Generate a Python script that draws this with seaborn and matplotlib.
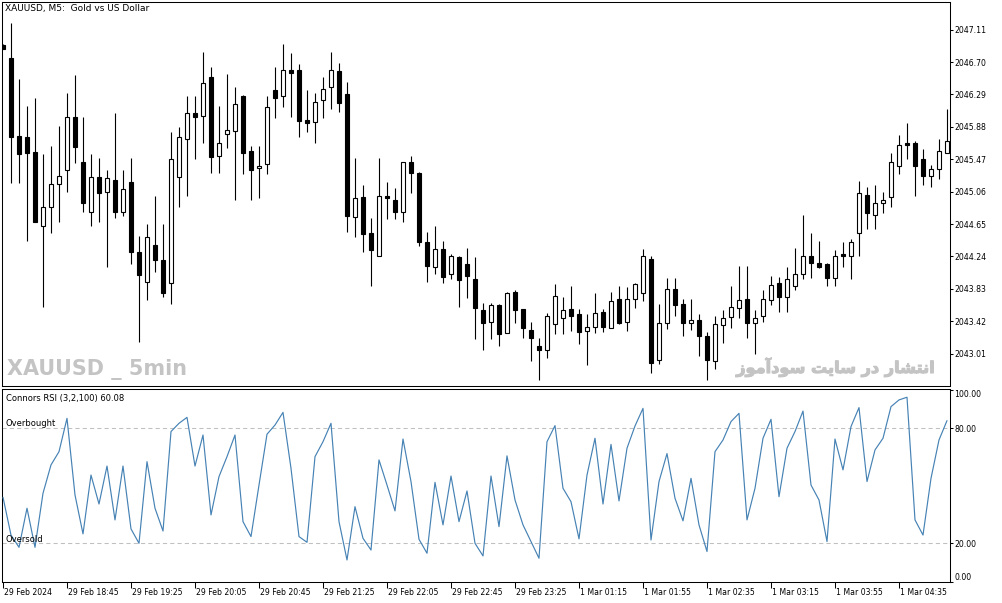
import numpy as np
import pandas as pd
import matplotlib
matplotlib.use("Agg")
import matplotlib.pyplot as plt
import matplotlib.transforms as mtransforms
import matplotlib.patheffects as pe
import seaborn as sns

# ---------------- data ----------------
opens = [2046.92, 2046.75, 2045.76, 2045.75, 2045.56, 2044.62, 2044.86, 2045.16, 2045.34, 2046.00,
         2045.43, 2044.80, 2045.24, 2045.06, 2045.21, 2044.80, 2045.18, 2044.29, 2043.91, 2044.39,
         2044.19, 2043.90, 2045.24, 2045.73, 2046.06, 2046.02, 2046.51, 2045.51, 2045.79, 2045.83,
         2046.27, 2045.58, 2045.36, 2045.41, 2046.35, 2046.27, 2046.60, 2046.60, 2045.97, 2045.94,
         2046.22, 2046.39, 2046.59, 2046.29, 2044.74, 2044.99, 2044.54, 2044.25, 2045.01, 2044.96,
         2044.80, 2045.44, 2045.30, 2044.42, 2044.11, 2044.33, 2044.02, 2044.23, 2044.15, 2043.96,
         2043.56, 2043.41, 2043.63, 2043.27, 2043.79, 2043.57, 2043.31, 2043.11, 2043.05, 2043.39,
         2043.46, 2043.57, 2043.51, 2043.30, 2043.35, 2043.54, 2043.34, 2043.70, 2043.41, 2043.70,
         2043.78, 2044.21, 2042.93, 2043.40, 2043.83, 2043.64, 2043.40, 2043.44, 2043.23, 2042.92,
         2043.37, 2043.47, 2043.59, 2043.70, 2043.40, 2043.48, 2043.69, 2043.90, 2043.73, 2043.87,
         2044.02, 2044.25, 2044.16, 2044.14, 2043.97, 2044.27, 2044.25, 2044.54, 2045.02, 2044.77,
         2044.91, 2044.99, 2045.39, 2045.67, 2045.67, 2045.47, 2045.26, 2045.35, 2045.55]
highs = [2046.93, 2047.19, 2046.48, 2046.14, 2046.24, 2045.53, 2045.64, 2045.89, 2046.31, 2046.54,
         2046.01, 2045.54, 2045.48, 2045.34, 2046.06, 2045.34, 2045.48, 2044.50, 2044.65, 2045.01,
         2044.65, 2045.81, 2045.88, 2046.27, 2046.27, 2046.83, 2046.64, 2046.14, 2046.55, 2046.38,
         2046.28, 2045.64, 2045.64, 2046.27, 2046.64, 2046.93, 2046.81, 2046.67, 2046.34, 2046.31,
         2046.51, 2046.83, 2046.69, 2046.45, 2045.48, 2045.15, 2044.73, 2045.48, 2045.18, 2045.10,
         2045.44, 2045.51, 2045.31, 2044.55, 2044.63, 2044.44, 2044.27, 2044.24, 2044.35, 2044.23,
         2043.65, 2043.65, 2043.64, 2043.79, 2043.82, 2043.58, 2043.41, 2043.21, 2043.53, 2043.89,
         2043.73, 2043.87, 2043.58, 2043.51, 2043.78, 2043.58, 2043.79, 2043.86, 2043.85, 2043.90,
         2044.34, 2044.25, 2043.64, 2043.97, 2043.97, 2043.70, 2043.70, 2043.51, 2043.28, 2043.49,
         2043.56, 2043.86, 2044.12, 2044.12, 2043.56, 2043.81, 2043.99, 2043.98, 2044.11, 2044.35,
         2044.77, 2044.54, 2044.44, 2044.16, 2044.32, 2044.42, 2044.46, 2045.20, 2045.12, 2045.14,
         2045.05, 2045.55, 2045.78, 2045.93, 2045.70, 2045.60, 2045.40, 2045.72, 2046.11]
lows = [2046.86, 2045.17, 2045.17, 2044.44, 2044.67, 2043.60, 2044.54, 2044.67, 2045.06, 2045.42,
        2044.80, 2044.63, 2044.68, 2044.11, 2044.72, 2044.75, 2044.14, 2043.16, 2043.69, 2044.04,
        2043.73, 2043.64, 2044.87, 2045.00, 2045.47, 2045.68, 2045.30, 2045.30, 2045.61, 2044.95,
        2045.28, 2044.95, 2044.98, 2045.28, 2045.99, 2046.13, 2046.00, 2045.75, 2045.81, 2045.68,
        2045.99, 2046.11, 2046.07, 2044.55, 2044.49, 2044.29, 2043.87, 2044.25, 2044.71, 2044.71,
        2044.67, 2045.04, 2044.37, 2043.92, 2044.02, 2043.90, 2043.96, 2043.60, 2043.72, 2043.20,
        2043.05, 2043.19, 2043.10, 2043.27, 2043.40, 2043.21, 2042.92, 2042.67, 2042.95, 2043.26,
        2043.26, 2043.30, 2043.13, 2042.87, 2043.27, 2043.28, 2043.34, 2043.39, 2043.30, 2043.59,
        2043.68, 2042.76, 2042.88, 2043.32, 2043.48, 2043.23, 2043.31, 2042.98, 2042.67, 2042.82,
        2043.14, 2043.34, 2043.46, 2043.21, 2043.01, 2043.41, 2043.63, 2043.54, 2043.54, 2043.81,
        2043.96, 2043.97, 2044.09, 2043.86, 2043.86, 2044.11, 2043.96, 2044.25, 2044.59, 2044.59,
        2044.79, 2044.87, 2045.28, 2045.47, 2045.00, 2045.14, 2045.12, 2045.22, 2045.55]
closes = [2046.87, 2045.75, 2045.53, 2045.55, 2044.67, 2044.87, 2045.16, 2045.26, 2046.00, 2045.62,
          2044.92, 2045.24, 2045.04, 2045.23, 2044.80, 2045.09, 2044.29, 2044.01, 2044.49, 2044.19,
          2043.78, 2045.47, 2045.75, 2046.06, 2046.01, 2046.43, 2045.50, 2045.68, 2045.84, 2046.17,
          2045.55, 2045.33, 2045.39, 2046.13, 2046.25, 2046.60, 2046.56, 2045.96, 2045.93, 2046.19,
          2046.36, 2046.60, 2046.18, 2044.75, 2044.98, 2044.53, 2044.32, 2045.00, 2044.98, 2044.80,
          2045.43, 2045.30, 2044.42, 2044.12, 2044.34, 2043.98, 2044.25, 2043.94, 2043.99, 2043.59,
          2043.40, 2043.63, 2043.26, 2043.78, 2043.56, 2043.34, 2043.21, 2043.05, 2043.49, 2043.74,
          2043.56, 2043.49, 2043.28, 2043.35, 2043.53, 2043.35, 2043.68, 2043.40, 2043.70, 2043.89,
          2044.24, 2042.89, 2043.40, 2043.83, 2043.63, 2043.40, 2043.43, 2043.23, 2042.93, 2043.38,
          2043.46, 2043.60, 2043.69, 2043.40, 2043.46, 2043.70, 2043.88, 2043.73, 2043.96, 2044.02,
          2044.25, 2044.16, 2044.11, 2043.97, 2044.25, 2044.24, 2044.42, 2045.04, 2044.79, 2044.92,
          2044.96, 2045.43, 2045.65, 2045.65, 2045.38, 2045.26, 2045.35, 2045.57, 2045.70]
crsi = [44.0, 24.3, 17.9, 38.3, 17.9, 46.1, 60.9, 67.8, 85.2, 45.2,
        24.9, 55.6, 40.5, 60.3, 32.2, 60.3, 27.5, 20.0, 62.6, 38.3,
        26.4, 78.3, 82.6, 85.7, 60.3, 76.5, 34.8, 54.8, 65.2, 76.5,
        31.3, 23.5, 50.4, 76.9, 81.7, 88.3, 59.1, 23.5, 20.5, 65.2,
        73.0, 82.6, 31.3, 11.3, 39.1, 22.6, 16.5, 63.5, 50.4, 36.9,
        74.4, 52.2, 22.1, 14.8, 51.8, 29.6, 55.1, 31.3, 47.3, 20.0,
        13.4, 55.1, 28.7, 65.6, 42.6, 29.6, 20.9, 12.2, 73.0, 81.4,
        48.7, 41.7, 22.3, 55.6, 74.8, 40.5, 71.6, 42.1, 69.6, 81.2,
        90.4, 21.7, 52.2, 66.8, 43.5, 31.7, 53.9, 29.6, 15.7, 67.8,
        73.9, 83.5, 87.8, 32.2, 48.7, 74.8, 84.7, 44.3, 69.6, 78.3,
        89.0, 50.4, 42.6, 20.9, 74.4, 58.3, 80.9, 90.8, 52.2, 68.7,
        74.8, 91.3, 94.8, 96.2, 32.2, 24.3, 53.9, 73.9, 84.0]
price_ticks = [2043.01, 2043.42, 2043.83, 2044.24, 2044.65, 2045.06, 2045.47, 2045.88,
               2046.29, 2046.70, 2047.11]
rsi_ticks = [0, 20, 80, 100]
rsi_levels = [20, 80]
time_tick_pos = [0, 8, 16, 24, 32, 40, 48, 56, 64, 72, 80, 88, 96, 104, 112]
time_tick_labels = ["29 Feb 2024", "29 Feb 18:45", "29 Feb 19:25", "29 Feb 20:05",
                    "29 Feb 20:45", "29 Feb 21:25", "29 Feb 22:05", "29 Feb 22:45",
                    "29 Feb 23:25", "1 Mar 01:15", "1 Mar 01:55", "1 Mar 02:35",
                    "1 Mar 03:15", "1 Mar 03:55", "1 Mar 04:35"]
chart_title = "XAUUSD, M5:  Gold vs US Dollar"
indicator_title = "Connors RSI (3,2,100) 60.08"
watermark_left = "XAUUSD _ 5min"
watermark_right = "انتشار در سایت سودآموز"
# same Persian words in shaped presentation forms, in visual (right-to-left) order
watermark_right_shaped = ("\uFE8D\uFEE7\uFE98\uFEB8\uFE8E\uFEAD \uFEA9\uFEAD "
                          "\uFEB3\uFE8E\uFBFE\uFE96 \uFEB3\uFEEE\uFEA9\uFE81\uFEE3\uFEEE\uFEAF")[::-1]

df = pd.DataFrame({"open": opens, "high": highs, "low": lows, "close": closes, "crsi": crsi})
df["idx"] = np.arange(len(df))

# ---------------- style ----------------
sns.set_style("white")
plt.rcParams["font.family"] = ["DejaVu Sans"]
plt.rcParams["axes.linewidth"] = 0.75
plt.rcParams["axes.edgecolor"] = "black"

W, H = 1003, 603
fig = plt.figure(figsize=(W / 100, H / 100), dpi=100)
fig.patch.set_facecolor("white")
ax1 = fig.add_axes([2 / W, (H - 386) / H, 948 / W, 384 / H])
ax2 = fig.add_axes([2 / W, (H - 582) / H, 948 / W, 193 / H])

xlim = (-0.125, 118.375)

# ---------------- candles ----------------
up = df["close"] >= df["open"]
ax1.vlines(df["idx"], df["low"], df["high"], color="black", linewidth=0.8, zorder=2)
body_bottom = np.minimum(df["open"], df["close"])
body_height = np.maximum(np.abs(df["close"] - df["open"]), 0.004)
ax1.bar(df["idx"][up], body_height[up], bottom=body_bottom[up], width=0.5,
        color="white", edgecolor="black", linewidth=0.8, zorder=3)
ax1.bar(df["idx"][~up], body_height[~up], bottom=body_bottom[~up], width=0.5,
        color="black", edgecolor="black", linewidth=0.8, zorder=3)

ax1.set_xlim(*xlim)
ax1.set_ylim(2042.60, 2047.46)
ax1.yaxis.tick_right()
ax1.set_yticks(price_ticks)
ax1.set_yticklabels([f"{v:.2f}" for v in price_ticks])
ax1.tick_params(axis="y", direction="out", length=2.5, width=0.75, pad=0.8,
                labelsize=5.6, colors="black", right=True, left=False)
ax1.set_xticks([])
ax1.set_xlabel("")
ax1.set_ylabel("")

ax1.text(3 / 948, 1 - 2.5 / 384, chart_title, transform=ax1.transAxes,
         ha="left", va="top", fontsize=6.5, color="black")
wm1 = ax1.text(5 / 948, (386 - 375) / 384, watermark_left, transform=ax1.transAxes,
               ha="left", va="baseline", fontsize=22, fontweight="bold", color="#c4c4c4",
               family=["DejaVu Sans"])
wm2 = ax1.text(933 / 948, (386 - 373) / 384, watermark_right_shaped, transform=ax1.transAxes,
               ha="right", va="baseline", fontsize=13, fontweight="bold", color="#c4c4c4",
               family=["DejaVu Sans"])
wm2.set_path_effects([pe.withStroke(linewidth=0.8, foreground="#c4c4c4")])

# fit watermark widths to the reference (180 px and 200 px)
renderer = fig.canvas.get_renderer()
for t, target in ((wm1, 180.0), (wm2, 198.0)):
    w = t.get_window_extent(renderer=renderer).width
    t.set_fontsize(t.get_fontsize() * target / w)

# ---------------- Connors RSI ----------------
for lv in rsi_levels:
    ax2.axhline(lv, color="#c0c0c0", linewidth=0.75, linestyle=(0, (4, 3)), zorder=1)
sns.lineplot(data=df, x="idx", y="crsi", ax=ax2, color="#4682b4", linewidth=0.85, zorder=3)
ax2.set_xlim(*xlim)
ax2.set_ylim(-0.2, 100.5)
ax2.yaxis.tick_right()
ax2.set_yticks(rsi_ticks)
ax2.set_yticklabels([f"{v:.2f}" for v in rsi_ticks])
ax2.tick_params(axis="y", direction="out", length=2.5, width=0.75, pad=0.8,
                labelsize=5.6, colors="black", right=True, left=False)
for lab in ax2.get_yticklabels():
    if lab.get_text() == "0.00":
        lab.set_va("bottom")
    elif lab.get_text() == "100.00":
        lab.set_va("top")
ax2.set_xticks(time_tick_pos)
ax2.set_xticklabels(time_tick_labels)
ax2.tick_params(axis="x", direction="out", length=4, width=0.75, pad=0.5,
                labelsize=5.6, colors="black", bottom=True)
offset = mtransforms.ScaledTranslation(1.5 / 100, 0, fig.dpi_scale_trans)
for lab in ax2.get_xticklabels():
    lab.set_ha("left")
    lab.set_transform(lab.get_transform() + offset)
ax2.set_xlabel("")
ax2.set_ylabel("")

ax2.text(4 / 948, 1 - 5 / 193, indicator_title, transform=ax2.transAxes,
         ha="left", va="top", fontsize=6, color="black")
ax2.text(4 / 948, (582 - 427.5) / 193, "Overbought", transform=ax2.transAxes,
         ha="left", va="bottom", fontsize=6, color="black")
ax2.text(4 / 948, (582 - 541.5) / 193, "Oversold", transform=ax2.transAxes,
         ha="left", va="baseline", fontsize=6, color="black")

for ax in (ax1, ax2):
    for s in ax.spines.values():
        s.set_visible(True)
        s.set_color("black")
        s.set_linewidth(0.75)

fig.savefig("out.png", dpi=100, facecolor="white")
